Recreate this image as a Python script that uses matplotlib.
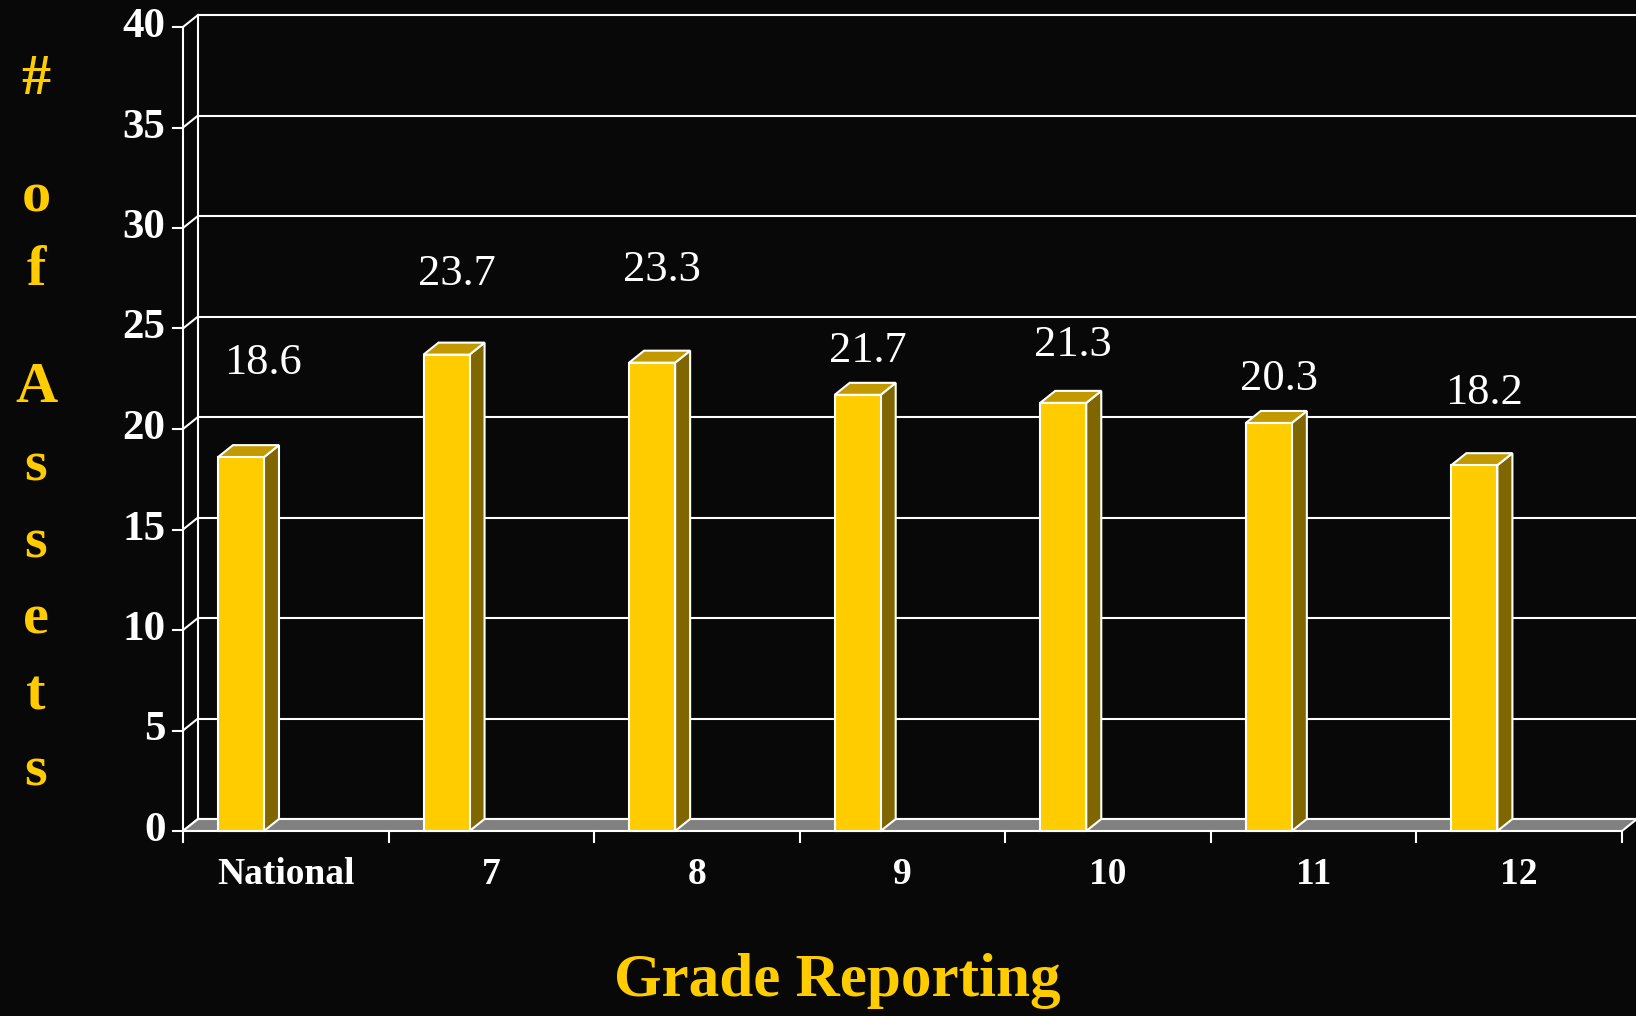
import matplotlib
matplotlib.use("Agg")
import matplotlib.pyplot as plt
from matplotlib.patches import Polygon, Rectangle

categories = ["National", "7", "8", "9", "10", "11", "12"]
values = [18.6, 23.7, 23.3, 21.7, 21.3, 20.3, 18.2]
y_ticks = [0, 5, 10, 15, 20, 25, 30, 35, 40]
# where the value labels sit (data units)
label_heights = [23.3, 27.7, 27.9, 23.9, 24.2, 22.5, 21.8]
ylabel_letters = ["#", "o", "f", "A", "s", "s", "e", "t", "s"]
ylabel_rows = [80, 198, 271, 388, 466, 543, 619, 696, 772]

BG = "#080808"
GOLD = "#FFCC00"
SIDE = "#806600"
TOP = "#C29A00"
FLOOR = "#808080"
FONT = "Liberation Serif"

plt.rcParams["font.family"] = FONT

W, H = 1636, 1016
fig = plt.figure(figsize=(W / 100, H / 100), dpi=100, facecolor=BG)
ax = fig.add_axes([183 / W, (H - 831) / H, 1453 / W, 815 / H])
ax.set_facecolor(BG)
n = len(categories)
ax.set_xlim(0, 1453 / 205.57)
ax.set_ylim(0, 815 / 20.1)
ax.axis("off")

dx = 15 / 205.57   # depth offset in x units
dy = 12 / 20.1     # depth offset in y units
xmax = 1453 / 205.57
lw = 1.5

# back wall grid + diagonals + y ticks
for t in y_ticks:
    ax.plot([dx, xmax], [t + dy, t + dy], color="white", lw=lw, clip_on=False, zorder=1)
    ax.plot([0, dx], [t, t + dy], color="white", lw=lw, clip_on=False, zorder=1)
    ax.plot([-0.0486, 0], [t, t], color="white", lw=lw, clip_on=False, zorder=1)
    ax.text(-0.085, t, str(t), ha="right", va="center", color="white",
            fontsize=31, fontweight="bold")
ax.plot([dx, dx], [dy, y_ticks[-1] + dy], color="white", lw=lw, clip_on=False, zorder=1)
ax.plot([0, 0], [0, y_ticks[-1]], color="white", lw=lw, clip_on=False, zorder=1)

# floor
floor = Polygon([(0, 0), (n, 0), (n + dx, dy), (dx, dy)], closed=True,
                facecolor=FLOOR, edgecolor="white", lw=lw, clip_on=False, zorder=2)
ax.add_patch(floor)

# x ticks and labels
for i in range(n + 1):
    ax.plot([i, i], [0, -0.547], color="white", lw=lw, clip_on=False, zorder=2)
for i, c in enumerate(categories):
    ax.text(i + 0.5, -2.14, c, ha="center", va="center", color="white",
            fontsize=27, fontweight="bold")

# 3d bars
bw = 0.224
for i, v in enumerate(values):
    x0 = i + 0.17
    front = Rectangle((x0, 0), bw, v, facecolor=GOLD, edgecolor="white",
                      lw=lw, zorder=4, clip_on=False)
    side = Polygon([(x0 + bw, 0), (x0 + bw + dx, dy), (x0 + bw + dx, v + dy), (x0 + bw, v)],
                   closed=True, facecolor=SIDE, edgecolor="white", lw=lw, zorder=3, clip_on=False)
    top = Polygon([(x0, v), (x0 + bw, v), (x0 + bw + dx, v + dy), (x0 + dx, v + dy)],
                  closed=True, facecolor=TOP, edgecolor="white", lw=lw, zorder=3, clip_on=False)
    ax.add_patch(side)
    ax.add_patch(top)
    ax.add_patch(front)
    lx = i + (0.39 if i == 0 else 0.33)
    ax.text(lx, label_heights[i], f"{v:.1f}", ha="center", va="center",
            color="white", fontsize=32)

# axis titles
fig.text(837 / W, 1 - 981 / H, "Grade Reporting", ha="center", va="center",
         color=GOLD, fontsize=44, fontweight="bold")
for ch, row in zip(ylabel_letters, ylabel_rows):
    fig.text(36 / W, 1 - row / H, ch, ha="center", va="center",
             color=GOLD, fontsize=42, fontweight="bold")

fig.savefig("out.png", dpi=100, facecolor=BG)
